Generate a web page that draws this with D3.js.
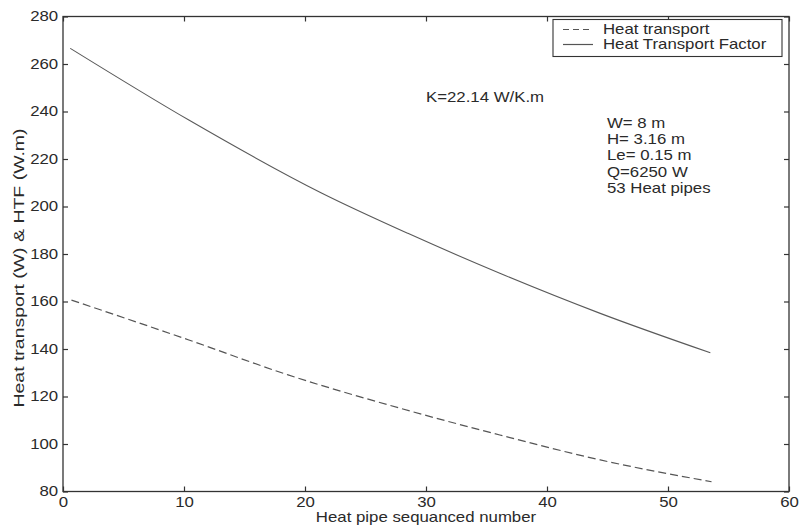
<!DOCTYPE html>
<html><head><meta charset="utf-8">
<script src="https://cdn.jsdelivr.net/npm/d3@7"></script>
<style>body{margin:0;background:#fff}svg{display:block}text{font-family:"Liberation Sans",Arial,sans-serif;fill:#2a2a2a}</style>
</head><body><svg id="c" width="800" height="530"></svg>
<script>
// Data
const htfX = [0.6, 10.4, 21.4, 28.5, 36.1, 44.4, 53.5];
const htfY = [266.6, 236.4, 205.6, 188.7, 171.9, 155.0, 138.4];
const htX  = [0.7, 10.4, 18.6, 27.9, 36.1, 44.4, 53.6];
const htY  = [160.6, 143.8, 129.1, 115.0, 103.8, 93.3, 84.1];
const xTicks = [0, 10, 20, 30, 40, 50, 60];
const yTicks = [80, 100, 120, 140, 160, 180, 200, 220, 240, 260, 280];
const legendLabels = ["Heat transport", "Heat Transport Factor"];
const notes = ["W= 8 m", "H= 3.16 m", "Le= 0.15 m", "Q=6250 W", "53 Heat pipes"];

const svg = d3.select("#c");
const L = 63, R = 789, T = 16.5, B = 491.5;
const SX = 1.2; // horizontal stretch of the lettering in the reference
const x = d3.scaleLinear().domain([0, 60]).range([L, R]);
const y = d3.scaleLinear().domain([80, 280]).range([B, T]);
const axisCol = "#333";

// frame
svg.append("rect").attr("x", L).attr("y", T).attr("width", R - L).attr("height", B - T)
  .attr("fill", "none").attr("stroke", axisCol).attr("stroke-width", 1.3);

// axes with inward ticks
const gx = svg.append("g").attr("transform", `translate(0,${B})`)
  .call(d3.axisBottom(x).tickValues(xTicks).tickSize(-5).tickPadding(5.5).tickFormat(d3.format("d")));
const gxt = svg.append("g").attr("transform", `translate(0,${T})`)
  .call(d3.axisTop(x).tickValues(xTicks).tickSize(-5).tickFormat(""));
const gy = svg.append("g").attr("transform", `translate(${L},0)`)
  .call(d3.axisLeft(y).tickValues(yTicks).tickSize(-5).tickPadding(4).tickFormat(d3.format("d")));
const gyr = svg.append("g").attr("transform", `translate(${R},0)`)
  .call(d3.axisRight(y).tickValues(yTicks).tickSize(-5).tickFormat(""));
[gx, gxt, gy, gyr].forEach(g => {
  g.select(".domain").remove();
  g.selectAll("line").attr("stroke", axisCol).attr("stroke-width", 1.2);
  g.selectAll("text").style("font-size", "14px").attr("fill", "#2a2a2a")
    .attr("transform", `scale(${SX},1)`);
});

// lines
const line = d3.line().x(d => x(d[0])).y(d => y(d[1])).curve(d3.curveMonotoneX);
svg.append("path").datum(htfX.map((v, i) => [v, htfY[i]]))
  .attr("d", line).attr("fill", "none").attr("stroke", "#5a5a5a").attr("stroke-width", 1.1);
svg.append("path").datum(htX.map((v, i) => [v, htY[i]]))
  .attr("d", line).attr("fill", "none").attr("stroke", "#555").attr("stroke-width", 1.2)
  .attr("stroke-dasharray", "8,4");

function label(px, py, t, anchor) {
  return svg.append("text").attr("transform", `translate(${px},${py}) scale(${SX},1)`)
    .attr("dy", "0.35em").attr("text-anchor", anchor || "start")
    .style("font-size", "14px").text(t);
}

// legend
svg.append("rect").attr("x", 553).attr("y", 19.5).attr("width", 229).attr("height", 37)
  .attr("fill", "#fff").attr("stroke", axisCol).attr("stroke-width", 1.1);
legendLabels.forEach((t, i) => {
  const yy = 29.5 + i * 15;
  svg.append("line").attr("x1", 563).attr("x2", 593).attr("y1", yy).attr("y2", yy)
    .attr("stroke", "#555").attr("stroke-width", 1.2)
    .attr("stroke-dasharray", i === 0 ? "6,4" : null);
  label(603, yy, t);
});

// annotations
label(426, 97, "K=22.14 W/K.m");
notes.forEach((t, i) => label(607, 123 + i * 16.2, t));

// axis titles
svg.append("text").attr("transform", `translate(426,522) scale(${SX},1)`)
  .attr("text-anchor", "middle").style("font-size", "14px").text("Heat pipe sequanced number");
svg.append("text").attr("transform", `translate(19,268) rotate(-90) scale(1.3,1)`)
  .attr("dy", "0.35em").attr("text-anchor", "middle").style("font-size", "15px")
  .text("Heat transport (W) & HTF (W.m)");
</script></body></html>
